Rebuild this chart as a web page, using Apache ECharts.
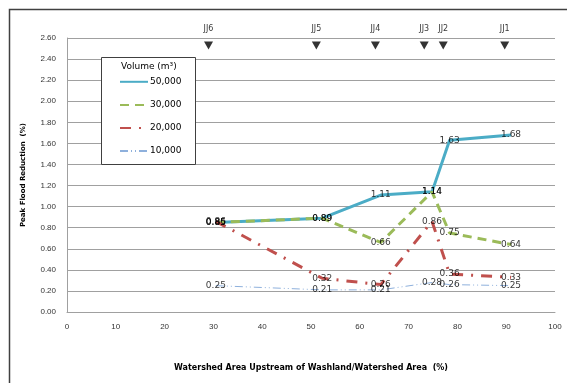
<!DOCTYPE html>
<html>
<head>
<meta charset="utf-8">
<script src="https://cdn.jsdelivr.net/npm/echarts@6/dist/echarts.min.js"></script>
<style>html,body{margin:0;padding:0;background:#fff}#c{width:567px;height:383px}</style>
</head>
<body>
<div id="c"></div>
<script>
// Data
const areaPct = [30.5, 52.3, 64.3, 74.8, 78.4, 91];
const seriesNames = ['50,000', '30,000', '20,000', '10,000'];
const vol50000 = [0.85, 0.89, 1.11, 1.14, 1.63, 1.68];
const vol30000 = [0.85, 0.89, 0.66, 1.14, 0.75, 0.64];
const vol20000 = [0.86, 0.32, 0.26, 0.86, 0.36, 0.33];
const vol10000 = [0.25, 0.21, 0.21, 0.28, 0.26, 0.25];
const stationNames = ['JJ6', 'JJ5', 'JJ4', 'JJ3', 'JJ2', 'JJ1'];
const stationPct = [29, 51.1, 63.2, 73.2, 77.1, 89.7];
const stationMarkerY = 2.53;

const chart = echarts.init(document.getElementById('c'), null, {renderer: 'canvas'});
const pairs = arr => arr.map((v, i) => [areaPct[i], v]);
function lineSeries(name, vals, color, width, type) {
  return {
    name, type: 'line', data: pairs(vals), symbol: 'none',
    lineStyle: {color, width, type}, itemStyle: {color},
    animation: false, z: 2
  };
}
function labelSeries(vals) {
  return {
    type: 'scatter', data: pairs(vals), symbolSize: 2, silent: true, z: 4,
    itemStyle: {color: 'rgba(0,0,0,0)'},
    label: {
      show: true, position: 'inside', color: '#000',
      fontFamily: 'DejaVu Sans', fontSize: 9,
      formatter: p => p.value[1].toFixed(2)
    },
    labelLayout: {hideOverlap: false}
  };
}
const option = {
  animation: false,
  grid: {left: 67, right: 12, top: 38, bottom: 71},
  xAxis: {
    type: 'value', min: 0, max: 100, interval: 10,
    name: 'Watershed Area Upstream of Washland/Watershed Area  (%)',
    nameLocation: 'middle', nameGap: 52,
    nameTextStyle: {fontFamily: 'DejaVu Sans', fontSize: 8, fontWeight: 'bold', color: '#000'},
    axisLine: {show: true, lineStyle: {color: '#a0a0a0'}},
    axisTick: {show: false},
    splitLine: {show: false},
    axisLabel: {fontFamily: 'Liberation Sans', fontSize: 8, color: '#333', margin: 11}
  },
  yAxis: {
    type: 'value', min: 0, max: 2.6, interval: 0.2,
    name: 'Peak Flood Reduction  (%)',
    nameLocation: 'middle', nameGap: 40,
    nameTextStyle: {fontFamily: 'DejaVu Sans', fontSize: 7, fontWeight: 'bold', color: '#000'},
    axisLine: {show: true, lineStyle: {color: '#a0a0a0'}},
    axisTick: {show: false},
    splitLine: {show: true, lineStyle: {color: '#a0a0a0', width: 1}},
    axisLabel: {fontFamily: 'Liberation Sans', fontSize: 8, color: '#333', margin: 11,
      formatter: v => v.toFixed(2)}
  },
  legend: {
    show: true, orient: 'vertical', left: 114, top: 72,
    itemWidth: 28, itemHeight: 12, itemGap: 13.5,
    data: seriesNames,
    itemStyle: {opacity: 0},
    textStyle: {fontFamily: 'DejaVu Sans', fontSize: 9, color: '#000', padding: [0, 0, 0, -3]},
    z: 10
  },
  graphic: [
    {type: 'rect', left: 7, top: 7, shape: {width: 600, height: 400},
     style: {fill: 'none', stroke: '#404040', lineWidth: 1.5}, z: 0, silent: true},
    {type: 'rect', left: 101, top: 57, shape: {width: 94, height: 107},
     style: {fill: '#fff', stroke: '#404040', lineWidth: 1}, z: 5},
    {type: 'text', left: 121, top: 62, z: 11,
     style: {text: 'Volume (m³)', fontFamily: 'DejaVu Sans', fontSize: 9, fill: '#000'}}
  ],
  series: [
    lineSeries('50,000', vol50000, '#4BACC6', 3, 'solid'),
    lineSeries('30,000', vol30000, '#9BBB59', 3, [9, 6]),
    lineSeries('20,000', vol20000, '#C0504D', 3, [11, 8, 2, 8]),
    lineSeries('10,000', vol10000, '#8EB0DC', 1, [8, 3, 1, 3, 1, 3]),
    labelSeries(vol50000),
    labelSeries(vol30000),
    labelSeries(vol20000),
    labelSeries(vol10000),
    {
      type: 'scatter', name: 'stations',
      data: stationPct.map((x, i) => [x, stationMarkerY, stationNames[i]]),
      symbol: 'triangle', symbolRotate: 180, symbolSize: [9, 8],
      itemStyle: {color: '#000'}, clip: false, silent: true,
      label: {show: true, position: 'top', distance: 8, formatter: p => p.value[2],
        fontFamily: 'DejaVu Sans', fontSize: 8, color: '#000'},
      z: 3
    }
  ]
};
chart.setOption(option);
</script>
</body>
</html>
